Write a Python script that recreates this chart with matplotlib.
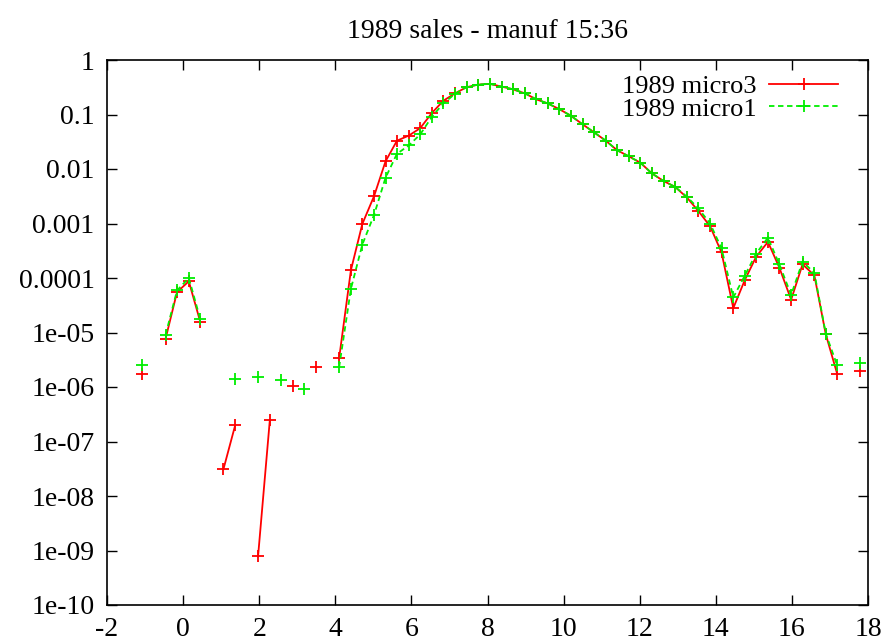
import matplotlib
matplotlib.use("Agg")
import matplotlib.pyplot as plt
import numpy as np

nan = np.nan

# x positions
x = [-1.07, -0.77, -0.46, -0.16, 0.15, 0.45, 0.76, 1.06, 1.37, 1.67,
     1.97, 2.28, 2.58, 2.89, 3.19, 3.50, 3.80, 4.10, 4.41, 4.71,
     5.02, 5.32, 5.62, 5.93, 6.23, 6.54, 6.84, 7.15, 7.45, 7.76,
     8.06, 8.37, 8.67, 8.98, 9.28, 9.58, 9.89, 10.19, 10.50, 10.80,
     11.11, 11.41, 11.72, 12.02, 12.32, 12.63, 12.93, 13.24, 13.54, 13.85,
     14.15, 14.46, 14.76, 15.06, 15.37, 15.67, 15.98, 16.28, 16.59, 16.89,
     17.19, 17.50, 17.80]

micro3 = [1.74e-6, nan, 7.7e-6, 5.5e-5, 8.7e-5, 1.58e-5, nan, 3.1e-8, 2.0e-7, nan,
          7.8e-10, 2.5e-7, nan, 1.06e-6, nan, 2.3e-6, nan, 3.35e-6, 1.39e-4, 9.8e-4,
          3.2e-3, 0.0138, 0.033, 0.041, 0.056, 0.107, 0.179, 0.245, 0.317, 0.354,
          0.365, 0.325, 0.29, 0.245, 0.19, 0.16, 0.125, 0.095, 0.066, 0.047,
          0.033, 0.022, 0.017, 0.013, 0.0083, 0.006, 0.0047, 0.0030, 0.0017, 8.9e-4,
          2.95e-4, 2.8e-5, 9.1e-5, 2.45e-4, 4.6e-4, 1.55e-4, 4.0e-5, 1.78e-4, 1.12e-4, 9.3e-6,
          1.74e-6, nan, 2.0e-6]

micro1 = [2.5e-6, nan, 9.1e-6, 5.9e-5, 1.0e-4, 1.77e-5, nan, nan, 1.4e-6, nan,
          1.5e-6, nan, 1.37e-6, nan, 9.2e-7, nan, nan, 2.3e-6, 6.3e-5, 4.1e-4,
          1.45e-3, 6.9e-3, 0.019, 0.027, 0.043, 0.091, 0.16, 0.24, 0.32, 0.355,
          0.365, 0.325, 0.29, 0.245, 0.19, 0.16, 0.125, 0.095, 0.066, 0.047,
          0.033, 0.022, 0.017, 0.013, 0.0083, 0.006, 0.0047, 0.0031, 0.0019, 1.0e-3,
          3.5e-4, 4.4e-5, 1.1e-4, 2.8e-4, 5.5e-4, 1.78e-4, 4.9e-5, 2.0e-4, 1.24e-4, 9.5e-6,
          2.5e-6, nan, 2.8e-6]

xticks = [-2, 0, 2, 4, 6, 8, 10, 12, 14, 16, 18]
yticks = [1, 0.1, 0.01, 0.001, 0.0001, 1e-5, 1e-6, 1e-7, 1e-8, 1e-9, 1e-10]
ylabels = ["1", "0.1", "0.01", "0.001", "0.0001", "1e-05", "1e-06",
           "1e-07", "1e-08", "1e-09", "1e-10"]

plt.rcParams['font.family'] = ['Liberation Serif', 'DejaVu Serif']

fig = plt.figure(figsize=(8.95, 6.44), dpi=100)
ax = fig.add_axes([107 / 895, 1 - 605 / 644, (868 - 107) / 895, (605 - 60) / 644])

ax.plot(x, micro3, color='#ff0000', linestyle='-', linewidth=1.3,
        marker='+', markersize=9, markeredgewidth=1.3, label='1989 micro3')
ax.plot(x, micro1, color='#00ee00', linestyle='--', dashes=(3, 2), linewidth=1.3,
        marker='+', markersize=9, markeredgewidth=1.3, label='1989 micro1')

ax.set_yscale('log')
ax.set_xlim(-2, 18)
ax.set_ylim(1e-10, 1)
ax.set_xticks(xticks)
ax.set_xticklabels([str(t) for t in xticks])
ax.set_yticks(yticks)
ax.set_yticklabels(ylabels)
ax.minorticks_off()
ax.tick_params(direction='in', length=7, width=1, top=True, right=True,
               labelsize=20, pad=9)
for s in ax.spines.values():
    s.set_linewidth(1.2)

ax.set_title('1989 sales - manuf 15:36', fontsize=20, pad=16)

ax.legend(loc='upper right', bbox_to_anchor=(838 / 895, 1 - 75 / 644),
          bbox_transform=fig.transFigure, frameon=False, markerfirst=False,
          numpoints=1, fontsize=19, handlelength=2.6, borderaxespad=0,
          borderpad=0, labelspacing=-0.05, handletextpad=0.5)

fig.savefig('out.png', dpi=100)
